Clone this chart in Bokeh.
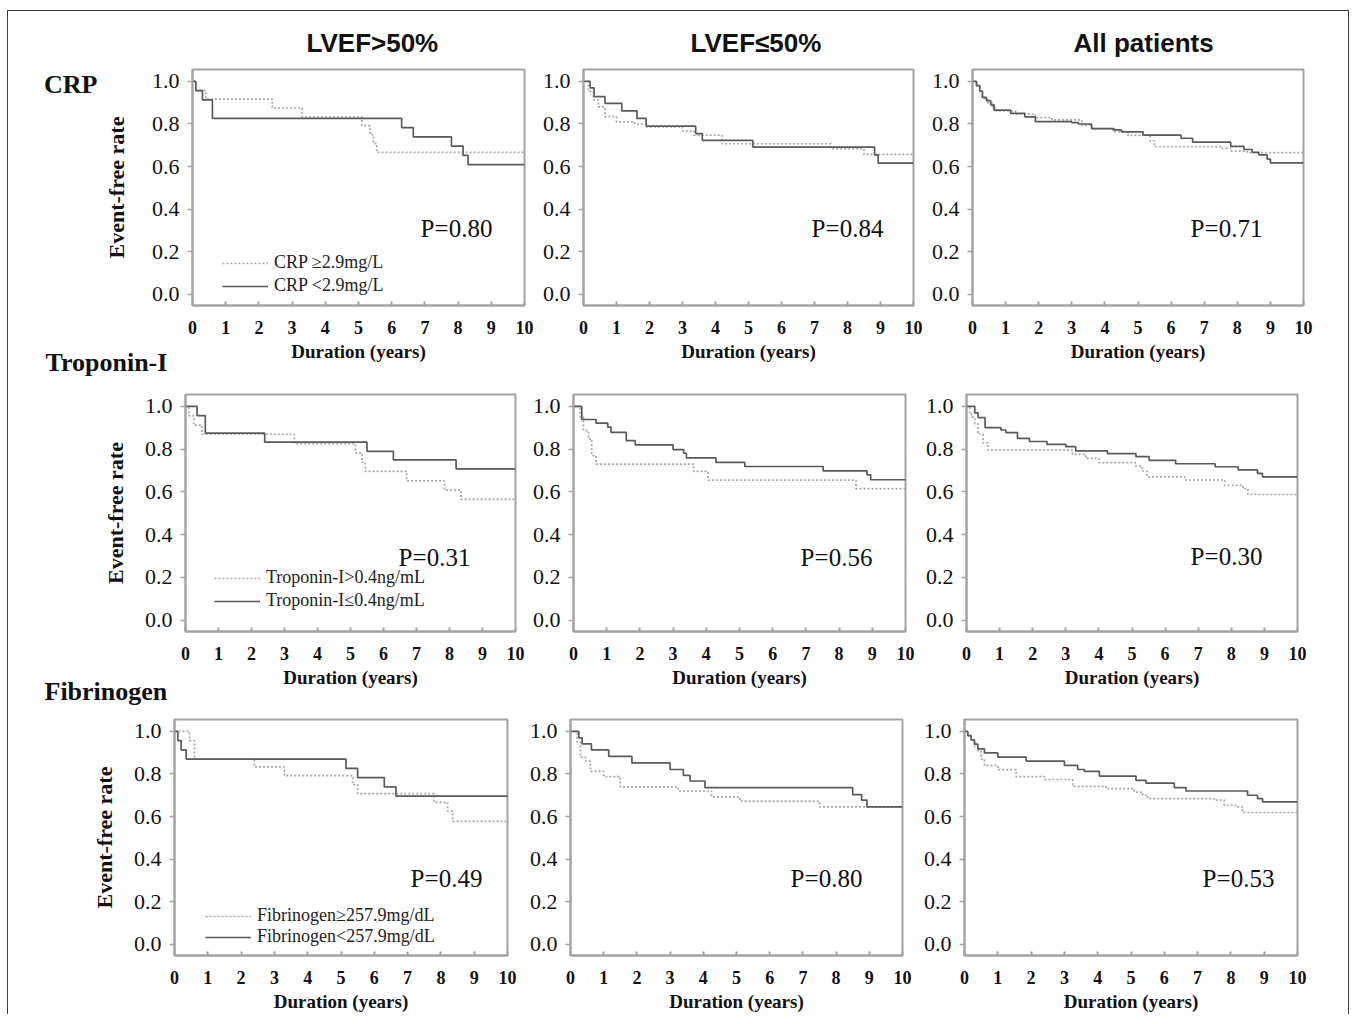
from bokeh.plotting import figure
from bokeh.models import (Range1d, FixedTicker, PrintfTickFormatter, Label, Legend,
                          LegendItem, LinearAxis, Title)
from bokeh.layouts import row, column
from bokeh.embed import file_html
from bokeh.resources import INLINE

# ---------------- data ----------------
x_ticks = [0, 1, 2, 3, 4, 5, 6, 7, 8, 9, 10]
y_ticks = [0.0, 0.2, 0.4, 0.6, 0.8, 1.0]
col_titles = ["LVEF>50%", "LVEF\u226450%", "All patients"]
row_titles = ["CRP", "Troponin-I", "Fibrinogen"]
p_values = [["P=0.80", "P=0.84", "P=0.71"],
            ["P=0.31", "P=0.56", "P=0.30"],
            ["P=0.49", "P=0.80", "P=0.53"]]
legend_labels = [["CRP \u22652.9mg/L", "CRP <2.9mg/L"],
                 ["Troponin-I>0.4ng/mL", "Troponin-I\u22640.4ng/mL"],
                 ["Fibrinogen\u2265257.9mg/dL", "Fibrinogen<257.9mg/dL"]]
x_label = "Duration (years)"
y_label = "Event-free rate"

# CRP, LVEF>50%
crp_a_high_t = [0, 0.1, 0.4, 2.4, 3.3, 5.1, 5.35, 5.45, 5.55, 10]
crp_a_high_s = [1.0, 0.958, 0.917, 0.875, 0.833, 0.792, 0.75, 0.708, 0.667, 0.667]
crp_a_low_t = [0, 0.1, 0.3, 0.6, 6.3, 6.65, 7.8, 8.15, 8.3, 10]
crp_a_low_s = [1.0, 0.957, 0.913, 0.826, 0.783, 0.739, 0.696, 0.652, 0.609, 0.609]
# CRP, LVEF<=50%
crp_b_high_t = [0, 0.15, 0.3, 0.45, 0.65, 1.0, 1.55, 1.9, 3.0, 3.35, 4.2, 7.5, 8.5, 10]
crp_b_high_s = [1.0, 0.953, 0.913, 0.88, 0.835, 0.81, 0.80, 0.786, 0.766, 0.747, 0.707, 0.684, 0.657, 0.657]
crp_b_low_t = [0, 0.2, 0.32, 0.65, 1.16, 1.62, 1.9, 3.4, 3.6, 5.13, 8.82, 8.93, 10]
crp_b_low_s = [1.0, 0.97, 0.929, 0.897, 0.862, 0.826, 0.79, 0.755, 0.723, 0.691, 0.655, 0.616, 0.616]
# CRP, all patients
crp_c_high_t = [0, 0.12, 0.22, 0.3, 0.45, 0.6, 0.7, 1.3, 1.9, 2.4, 3.3, 3.6, 4.3, 4.7, 5.37, 5.5, 7.5, 7.8, 8.3, 10]
crp_c_high_s = [1.0, 0.98, 0.95, 0.92, 0.9, 0.875, 0.861, 0.846, 0.83, 0.819, 0.795, 0.778, 0.764, 0.746, 0.72, 0.693, 0.685, 0.672, 0.665, 0.665]
crp_c_low_t = [0, 0.12, 0.22, 0.3, 0.42, 0.55, 0.65, 1.15, 1.58, 1.9, 3.0, 3.2, 3.6, 4.25, 4.5, 5.15, 6.3, 6.65, 7.8, 8.2, 8.45, 8.65, 8.9, 9.0, 10]
crp_c_low_s = [1.0, 0.98, 0.955, 0.925, 0.91, 0.89, 0.865, 0.85, 0.833, 0.811, 0.806, 0.8, 0.778, 0.772, 0.763, 0.748, 0.733, 0.715, 0.695, 0.68, 0.667, 0.655, 0.635, 0.617, 0.617]

# Troponin-I, LVEF>50%
tni_a_high_t = [0, 0.1, 0.25, 0.5, 3.3, 5.15, 5.35, 5.45, 6.7, 7.85, 8.35, 10]
tni_a_high_s = [1.0, 0.957, 0.913, 0.87, 0.826, 0.783, 0.739, 0.696, 0.652, 0.609, 0.565, 0.565]
tni_a_low_t = [0, 0.35, 0.6, 2.4, 5.5, 6.3, 8.2, 10]
tni_a_low_s = [1.0, 0.957, 0.875, 0.833, 0.79, 0.75, 0.708, 0.708]
# Troponin-I, LVEF<=50%
tni_b_high_t = [0, 0.2, 0.3, 0.45, 0.55, 0.68, 3.62, 4.05, 8.51, 10]
tni_b_high_s = [1.0, 0.95, 0.887, 0.848, 0.77, 0.73, 0.696, 0.655, 0.616, 0.616]
tni_b_low_t = [0, 0.25, 0.68, 1.03, 1.13, 1.59, 1.86, 3.0, 3.32, 3.4, 4.29, 5.16, 7.52, 8.84, 8.95, 10]
tni_b_low_s = [1.0, 0.939, 0.922, 0.903, 0.879, 0.84, 0.82, 0.798, 0.781, 0.759, 0.738, 0.719, 0.699, 0.68, 0.657, 0.657]
# Troponin-I, all patients
tni_c_high_t = [0, 0.1, 0.15, 0.25, 0.35, 0.5, 0.65, 3.2, 3.6, 4.0, 5.1, 5.3, 5.45, 6.6, 7.8, 8.35, 8.5, 10]
tni_c_high_s = [1.0, 0.97, 0.95, 0.92, 0.87, 0.83, 0.796, 0.776, 0.757, 0.737, 0.721, 0.698, 0.671, 0.656, 0.631, 0.615, 0.588, 0.588]
tni_c_low_t = [0, 0.25, 0.35, 0.56, 1.04, 1.19, 1.54, 1.9, 2.43, 3.0, 3.3, 4.26, 5.12, 5.52, 6.32, 7.51, 8.21, 8.79, 8.94, 10]
tni_c_low_s = [1.0, 0.97, 0.948, 0.901, 0.89, 0.878, 0.851, 0.836, 0.823, 0.812, 0.792, 0.779, 0.765, 0.748, 0.732, 0.718, 0.703, 0.687, 0.671, 0.671]

# Fibrinogen, LVEF>50%
fib_a_high_t = [0, 0.45, 0.6, 2.4, 3.3, 5.35, 5.5, 7.8, 8.2, 8.35, 10]
fib_a_high_s = [1.0, 0.957, 0.87, 0.833, 0.792, 0.75, 0.708, 0.667, 0.625, 0.577, 0.577]
fib_a_low_t = [0, 0.1, 0.2, 0.35, 5.15, 5.5, 6.3, 6.65, 10]
fib_a_low_s = [1.0, 0.957, 0.913, 0.87, 0.826, 0.783, 0.739, 0.696, 0.696]
# Fibrinogen, LVEF<=50%
fib_b_high_t = [0, 0.2, 0.3, 0.45, 0.6, 1.0, 1.5, 3.25, 4.25, 5.1, 7.5, 10]
fib_b_high_s = [1.0, 0.95, 0.879, 0.86, 0.812, 0.788, 0.739, 0.72, 0.692, 0.672, 0.645, 0.645]
fib_b_low_t = [0, 0.25, 0.35, 0.63, 1.15, 1.85, 3.0, 3.4, 3.6, 4.05, 8.5, 8.77, 8.93, 10]
fib_b_low_s = [1.0, 0.97, 0.941, 0.913, 0.883, 0.852, 0.821, 0.793, 0.767, 0.736, 0.703, 0.677, 0.645, 0.645]
# Fibrinogen, all patients
fib_c_high_t = [0, 0.1, 0.2, 0.3, 0.4, 0.5, 0.6, 1.0, 1.55, 2.4, 3.25, 4.25, 5.1, 5.35, 5.5, 7.5, 7.8, 8.2, 8.35, 10]
fib_c_high_s = [1.0, 0.98, 0.96, 0.93, 0.91, 0.87, 0.84, 0.82, 0.788, 0.774, 0.742, 0.731, 0.715, 0.70, 0.684, 0.677, 0.653, 0.645, 0.619, 0.619]
fib_c_low_t = [0, 0.1, 0.2, 0.3, 0.4, 0.6, 1.0, 1.85, 3.0, 3.4, 3.6, 4.05, 5.15, 5.45, 6.3, 6.65, 8.5, 8.8, 8.95, 10]
fib_c_low_s = [1.0, 0.98, 0.96, 0.94, 0.918, 0.899, 0.879, 0.86, 0.84, 0.821, 0.812, 0.79, 0.77, 0.757, 0.736, 0.72, 0.70, 0.684, 0.669, 0.669]

curves = [
    [(crp_a_high_t, crp_a_high_s, crp_a_low_t, crp_a_low_s),
     (crp_b_high_t, crp_b_high_s, crp_b_low_t, crp_b_low_s),
     (crp_c_high_t, crp_c_high_s, crp_c_low_t, crp_c_low_s)],
    [(tni_a_high_t, tni_a_high_s, tni_a_low_t, tni_a_low_s),
     (tni_b_high_t, tni_b_high_s, tni_b_low_t, tni_b_low_s),
     (tni_c_high_t, tni_c_high_s, tni_c_low_t, tni_c_low_s)],
    [(fib_a_high_t, fib_a_high_s, fib_a_low_t, fib_a_low_s),
     (fib_b_high_t, fib_b_high_s, fib_b_low_t, fib_b_low_s),
     (fib_c_high_t, fib_c_high_s, fib_c_low_t, fib_c_low_s)],
]

# ---------------- layout / style ----------------
SERIF = "Liberation Serif"
SANS = "Liberation Sans"
FRAME = "#a3a3a3"
SOLID = "#5a5a5a"
DASHED = "#a6a6a6"
INK = "#111111"
Y_LO, Y_HI = -0.053, 1.056

# per row (page px): band top, band height, frame top, frame height
rows_geo = [(11, 370, 69, 236), (381, 325, 394, 237), (706, 308, 719, 238)]
# per panel (page px): figure left, figure width, frame left, frame width
cols_geo = [
    [(8, 528, 192, 332), (536, 390, 583, 330), (926, 422, 972, 331)],
    [(8, 521, 185, 330), (529, 391, 573, 332), (920, 428, 966, 331)],
    [(8, 515, 174, 333), (523, 394, 570, 332), (917, 431, 964, 333)],
]
y_label_standoff = [20, 14, 14]
header_left = [306, 690, 1073]          # page x of header text start
header_standoff = 24
pval_pos = [[(456, 228), (847, 228), (1226, 228)],
            [(434, 557), (836, 557), (1226, 556)],
            [(446, 880), (826, 880), (1238, 880)]]
legend_pos = [(222, 296, 2), (214, 611, 2), (205, 949, -8)]
crp_tick = 0.986                        # vertical position of the "CRP" row label
crp_standoff = 3
below_labels = [(0, 1, 45, -34), (1, 2, 44, -27)]  # host row, title index, page x, standoff


def add_text(p, frame_lb, px, py, text, font, size, style="normal", align="left"):
    fl, fb = frame_lb
    p.add_layout(Label(x=px - fl, y=fb - py, x_units="screen", y_units="screen",
                       text=text, text_font=font, text_font_size=size,
                       text_font_style=style, text_align=align,
                       text_baseline="middle", text_color=INK))


figs = []
for r in range(3):
    top, height, ftop, fh = rows_geo[r]
    row_figs = []
    for c in range(3):
        left, width, fleft, fw = cols_geo[r][c]
        p = figure(width=width, height=height, title=None,
                   x_range=Range1d(0, 10), y_range=Range1d(Y_LO, Y_HI),
                   output_backend="svg", toolbar_location=None,
                   min_border_left=fleft - left,
                   min_border_right=left + width - fleft - fw,
                   min_border_top=ftop - top,
                   min_border_bottom=top + height - ftop - fh)
        p.grid.visible = False
        p.outline_line_color = FRAME
        p.outline_line_width = 2
        p.background_fill_color = "white"
        p.border_fill_color = "white"

        xa = p.xaxis[0]
        xa.ticker = FixedTicker(ticks=x_ticks)
        xa.axis_line_color = FRAME
        xa.axis_line_width = 2
        xa.major_tick_line_color = FRAME
        xa.major_tick_line_width = 2
        xa.major_tick_in = 4
        xa.major_tick_out = 0
        xa.minor_tick_line_color = None
        xa.major_label_text_font = SERIF
        xa.major_label_text_font_style = "bold"
        xa.major_label_text_font_size = "18px"
        xa.major_label_text_color = INK
        xa.major_label_standoff = 15
        xa.axis_label = x_label
        xa.axis_label_text_font = SERIF
        xa.axis_label_text_font_style = "bold"
        xa.axis_label_text_font_size = "19px"
        xa.axis_label_text_color = INK
        xa.axis_label_standoff = 4

        ya = p.yaxis[0]
        ya.ticker = FixedTicker(ticks=y_ticks)
        ya.formatter = PrintfTickFormatter(format="%.1f")
        ya.axis_line_color = FRAME
        ya.axis_line_width = 2
        ya.major_tick_line_color = FRAME
        ya.major_tick_line_width = 1.5
        ya.major_tick_in = 0
        ya.major_tick_out = 5
        ya.minor_tick_line_color = None
        ya.major_label_text_font = SERIF
        ya.major_label_text_font_size = "22px"
        ya.major_label_text_color = INK
        ya.major_label_standoff = 8
        if c == 0:
            ya.axis_label = y_label
            ya.axis_label_text_font = SERIF
            ya.axis_label_text_font_style = "bold"
            ya.axis_label_text_font_size = "22px"
            ya.axis_label_text_color = INK
            ya.axis_label_standoff = y_label_standoff[r]

        ht, hs, lt, ls = curves[r][c]
        r_high = p.step(ht, hs, mode="after", line_color=DASHED, line_width=1.7,
                        line_dash="2 2")
        r_low = p.step(lt, ls, mode="after", line_color=SOLID, line_width=1.7)

        frame_lb = (fleft, ftop + fh)
        add_text(p, frame_lb, pval_pos[r][c][0], pval_pos[r][c][1], p_values[r][c],
                 SERIF, "25px", align="center")

        if c == 0:
            gx, gb, sp = legend_pos[r]
            leg = Legend(items=[LegendItem(label=legend_labels[r][0], renderers=[r_high]),
                                LegendItem(label=legend_labels[r][1], renderers=[r_low])],
                         location=(gx - fleft, ftop + fh - gb),
                         padding=0, margin=0, spacing=sp,
                         border_line_color=None, background_fill_alpha=0,
                         glyph_width=46, glyph_height=20, label_height=20,
                         label_standoff=6, label_text_font=SERIF,
                         label_text_font_size="18px", label_text_color="#222222")
            p.add_layout(leg)

        if r == 0:
            p.add_layout(Title(text=col_titles[c], align="left",
                               offset=header_left[c] - fleft,
                               vertical_align="bottom", standoff=header_standoff,
                               text_font=SANS, text_font_size="26px",
                               text_font_style="bold", text_color=INK), "above")

        row_figs.append(p)
    figs.append(row_figs)

# row label "CRP": an outer left axis of the first panel with a single labelled tick
crp_axis = LinearAxis(ticker=FixedTicker(ticks=[crp_tick]),
                      major_label_overrides={crp_tick: row_titles[0]},
                      axis_line_color=None, major_tick_line_color=None,
                      minor_tick_line_color=None, major_tick_in=0, major_tick_out=0,
                      major_label_standoff=crp_standoff, major_label_text_font=SERIF,
                      major_label_text_font_size="26px",
                      major_label_text_font_style="bold",
                      major_label_text_color=INK)
figs[0][0].add_layout(crp_axis, "left")

# row labels "Troponin-I" and "Fibrinogen": titles below the panel above them
for host, idx, px, so in below_labels:
    fleft = cols_geo[host][0][2]
    figs[host][0].add_layout(Title(text=row_titles[idx], align="left", offset=px - fleft,
                                   vertical_align="top", standoff=so,
                                   text_font=SERIF, text_font_size="26px",
                                   text_font_style="bold", text_color=INK), "below")

layout = column(*[row(*rf, spacing=0) for rf in figs], spacing=0,
                styles={"border": "1px solid #3c3c3c", "border-bottom": "none",
                        "margin-left": "7px", "margin-top": "10px"})

open("out.html", "w").write(file_html(layout, INLINE))
